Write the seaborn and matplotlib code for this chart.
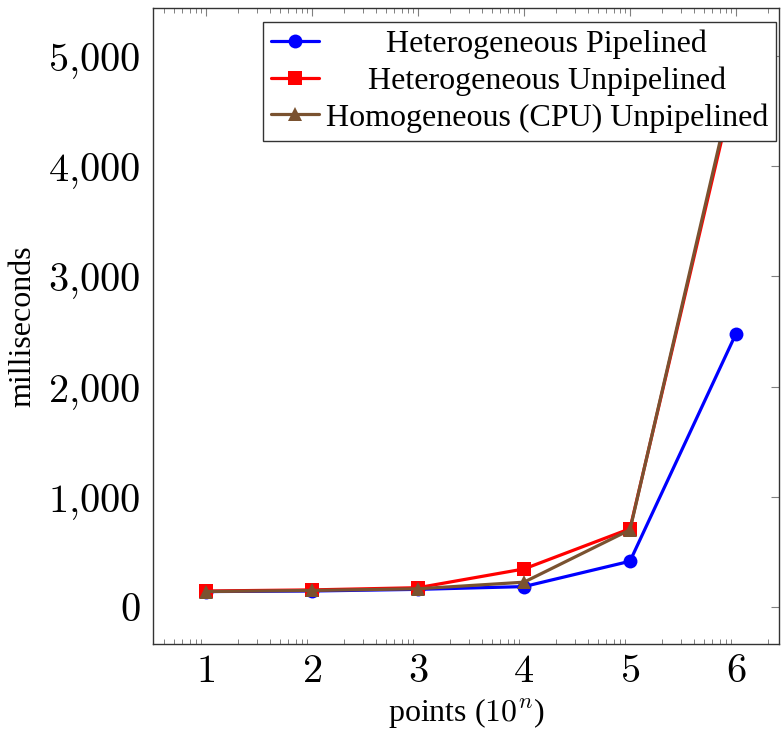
import numpy as np
import pandas as pd
import matplotlib
matplotlib.use("Agg")
import matplotlib.pyplot as plt
import matplotlib.ticker as mticker
from matplotlib.lines import Line2D
import seaborn as sns

exponents = [1, 2, 3, 4, 5, 6]
het_pipelined = [140, 145, 160, 185, 415, 2480]
het_unpipelined = [145, 155, 175, 345, 710, 4790]
homo_cpu_unpipelined = [140, 150, 165, 225, 700, 4850]
series_names = ["Heterogeneous Pipelined", "Heterogeneous Unpipelined",
                "Homogeneous (CPU) Unpipelined"]
y_ticks = [0, 1000, 2000, 3000, 4000, 5000]

sns.set_theme(style="white")
plt.rcParams["font.family"] = ["Liberation Serif", "DejaVu Serif"]
plt.rcParams["mathtext.fontset"] = "cm"
for k in ["text.color", "axes.labelcolor", "xtick.labelcolor", "ytick.labelcolor"]:
    plt.rcParams[k] = "black"

df = pd.DataFrame({
    "points": [10.0 ** e for e in exponents] * 3,
    "ms": het_pipelined + het_unpipelined + homo_cpu_unpipelined,
    "series": sum([[n] * len(exponents) for n in series_names], []),
})

colors = {series_names[0]: "#0000FF", series_names[1]: "#FF0000",
          series_names[2]: "#7A5230"}
markers = {series_names[0]: "o", series_names[1]: "s", series_names[2]: "^"}

fig = plt.figure(figsize=(7.81, 7.36), dpi=100)
fig.subplots_adjust(left=153/781, right=779/781, top=1-8/736, bottom=1-644/736)
ax = fig.add_subplot(111)

sns.lineplot(data=df, x="points", y="ms", hue="series", style="series",
             palette=colors, markers=markers, dashes=False, markersize=10,
             linewidth=2.3, markeredgewidth=0, ax=ax, legend=False)

ax.set_xscale("log")
ax.set_xlim(10 ** 0.5, 10 ** 6.406)
ax.set_ylim(-336, 5436)
ax.xaxis.set_major_locator(mticker.FixedLocator([10.0 ** e for e in exponents]))
ax.xaxis.set_major_formatter(mticker.FixedFormatter([f"${e}$" for e in exponents]))
ax.xaxis.set_minor_locator(mticker.LogLocator(base=10, subs=np.arange(2, 10), numticks=50))
ax.xaxis.set_minor_formatter(mticker.NullFormatter())
ax.set_yticks(y_ticks)
ax.set_yticklabels([f"${v // 1000}{{,}}000$" if v else "$0$" for v in y_ticks])

ax.tick_params(axis="both", which="major", direction="in", length=6, width=0.8,
               color="#808080", labelcolor="black", labelsize=29, top=True, right=True)
ax.tick_params(axis="y", which="major", pad=9)
ax.tick_params(axis="x", which="major", pad=7)
ax.tick_params(axis="x", which="minor", direction="in", length=3.5, width=0.7,
               color="#808080", top=True, bottom=True)
for s in ax.spines.values():
    s.set_color("#333333")
    s.set_linewidth(1.0)

ax.set_xlabel("points ($10^{n}$)", fontsize=23, labelpad=4, color="black")
ax.set_ylabel("milliseconds", fontsize=23, labelpad=8, color="black")

handles = [Line2D([], [], color=colors[n], marker=markers[n], markersize=10,
                  markeredgewidth=0, linewidth=2.3) for n in series_names]
leg = ax.legend(handles, series_names, loc="upper right", fontsize=23,
                frameon=True, fancybox=False, framealpha=1, edgecolor="#333333",
                borderpad=0.25, handlelength=1.5, handletextpad=0.2,
                labelspacing=0.22, borderaxespad=0,
                bbox_to_anchor=(0.9952, 0.978))
leg.get_frame().set_linewidth(1.0)
leg.set_zorder(10)
for t in leg.get_texts():
    t.set_color("black")

fig.canvas.draw()
r = fig.canvas.get_renderer()
widths = [t.get_window_extent(r).width for t in leg.get_texts()]
W = max(widths)
for t, w in zip(leg.get_texts(), widths):
    t.set_position(((W - w) / 2, 0))

fig.savefig("out.png", dpi=100)
